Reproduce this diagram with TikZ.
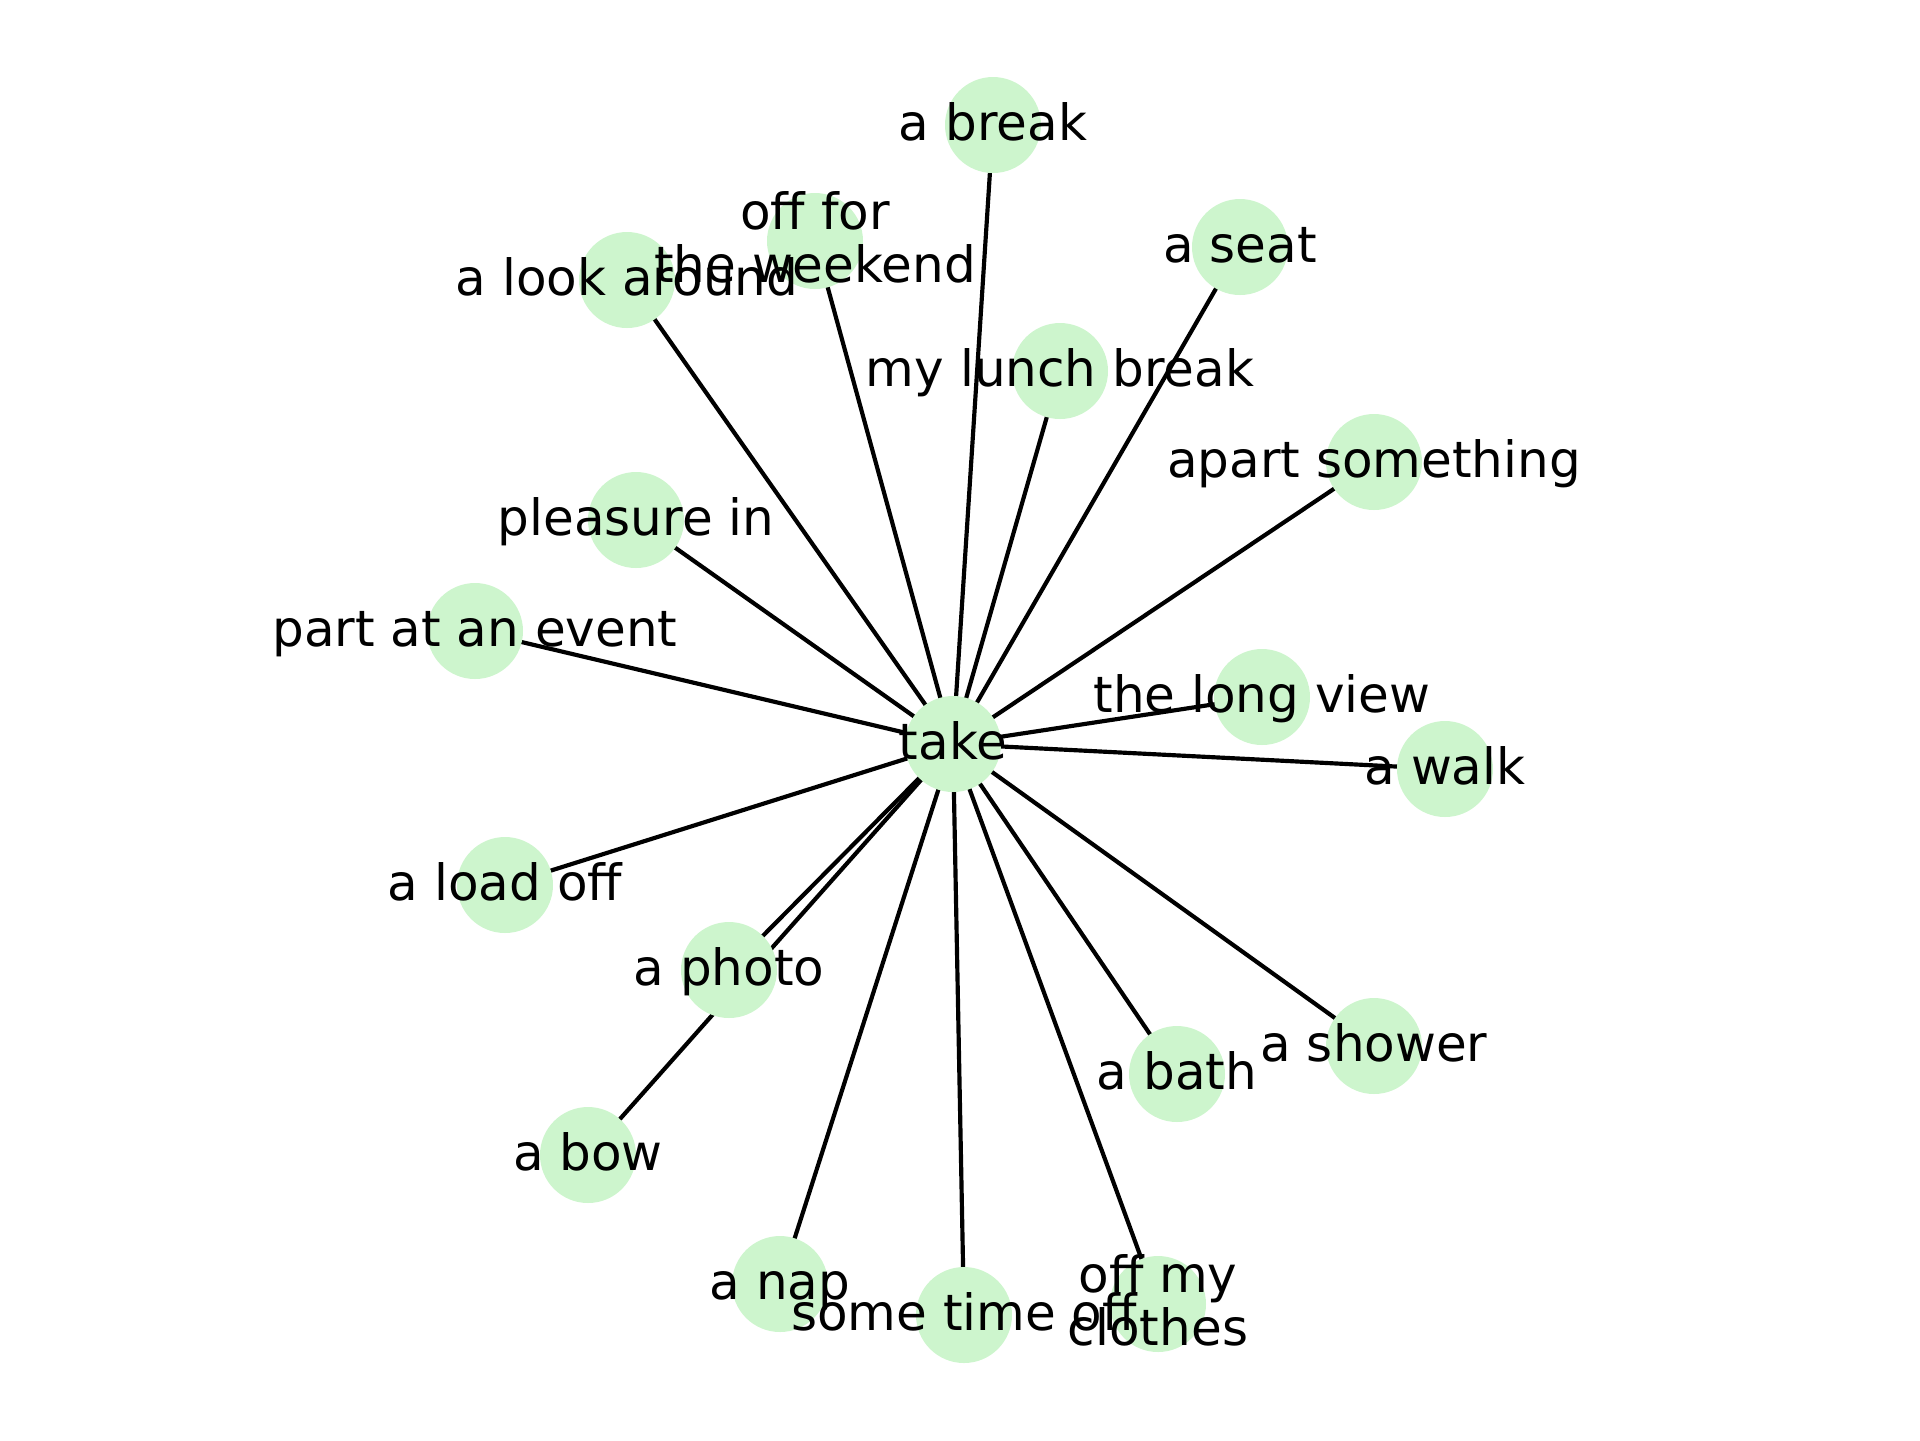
\documentclass[tikz,border=0pt]{standalone}
\usepackage{fontspec}
\setmainfont{DejaVu Sans}
\usetikzlibrary{backgrounds}
\definecolor{nodegreen}{RGB}{205,245,205}
\tikzset{
  vert/.style={circle,fill=nodegreen,draw=none,inner sep=0pt,minimum size=23.04pt},
  labone/.style={font={\fontsize{12}{12.7}\selectfont},text=black,inner sep=0pt,anchor=base,yshift=-3.6pt},
  labtwo/.style={font={\fontsize{12}{12.7}\selectfont},text=black,inner sep=0pt,align=center,anchor=center},
  edge/.style={draw=black,line width=1pt}
}
\newcommand{\topstrut}{\rule{0pt}{0.8em}}
\newcommand{\botstrut}{\rule[-0.2em]{0pt}{0pt}}
\begin{document}
\begin{tikzpicture}[x=0.24pt,y=-0.24pt]
\useasboundingbox (0,0) rectangle (1920,1440);
% node circles
\node[vert] (take) at (953,744) {};
\node[vert] (brk) at (993,125) {};
\node[vert] (wkd) at (815,241) {};
\node[vert] (look) at (627,280) {};
\node[vert] (seat) at (1240,247) {};
\node[vert] (lunch) at (1060,371) {};
\node[vert] (apart) at (1374,462) {};
\node[vert] (pleas) at (636,520) {};
\node[vert] (part) at (475,631) {};
\node[vert] (long) at (1262,697) {};
\node[vert] (walk) at (1445,769) {};
\node[vert] (load) at (505,885) {};
\node[vert] (photo) at (729,970) {};
\node[vert] (shower) at (1374,1046) {};
\node[vert] (bath) at (1177,1074) {};
\node[vert] (bow) at (588,1155) {};
\node[vert] (nap) at (780,1284) {};
\node[vert] (time) at (964,1315) {};
\node[vert] (clothes) at (1158,1304) {};
% connectors
\begin{scope}[on background layer]
\foreach \t in {brk,wkd,look,seat,lunch,apart,pleas,part,long,walk,load,photo,shower,bath,bow,nap,time,clothes}
  \draw[edge] (take.center) -- (\t.center);
\end{scope}
% labels
\node[labone] (take-l) at (take.center) {take};
\node[labone] (brk-l) at (brk.center) {a break};
\node[labtwo] (wkd-l) at (wkd.center) {\topstrut off for\\the weekend\botstrut};
\node[labone] (look-l) at (look.center) {a look around};
\node[labone] (seat-l) at (seat.center) {a seat};
\node[labone] (lunch-l) at (lunch.center) {my lunch break};
\node[labone] (apart-l) at (apart.center) {apart something};
\node[labone] (pleas-l) at (pleas.center) {pleasure in};
\node[labone] (part-l) at (part.center) {part at an event};
\node[labone] (long-l) at (long.center) {the long view};
\node[labone] (walk-l) at (walk.center) {a walk};
\node[labone] (load-l) at (load.center) {a load off};
\node[labone] (photo-l) at (photo.center) {a photo};
\node[labone] (shower-l) at (shower.center) {a shower};
\node[labone] (bath-l) at (bath.center) {a bath};
\node[labone] (bow-l) at (bow.center) {a bow};
\node[labone] (nap-l) at (nap.center) {a nap};
\node[labone] (time-l) at (time.center) {some time off};
\node[labtwo] (clothes-l) at (clothes.center) {\topstrut off my\\clothes\botstrut};
\end{tikzpicture}
\end{document}
